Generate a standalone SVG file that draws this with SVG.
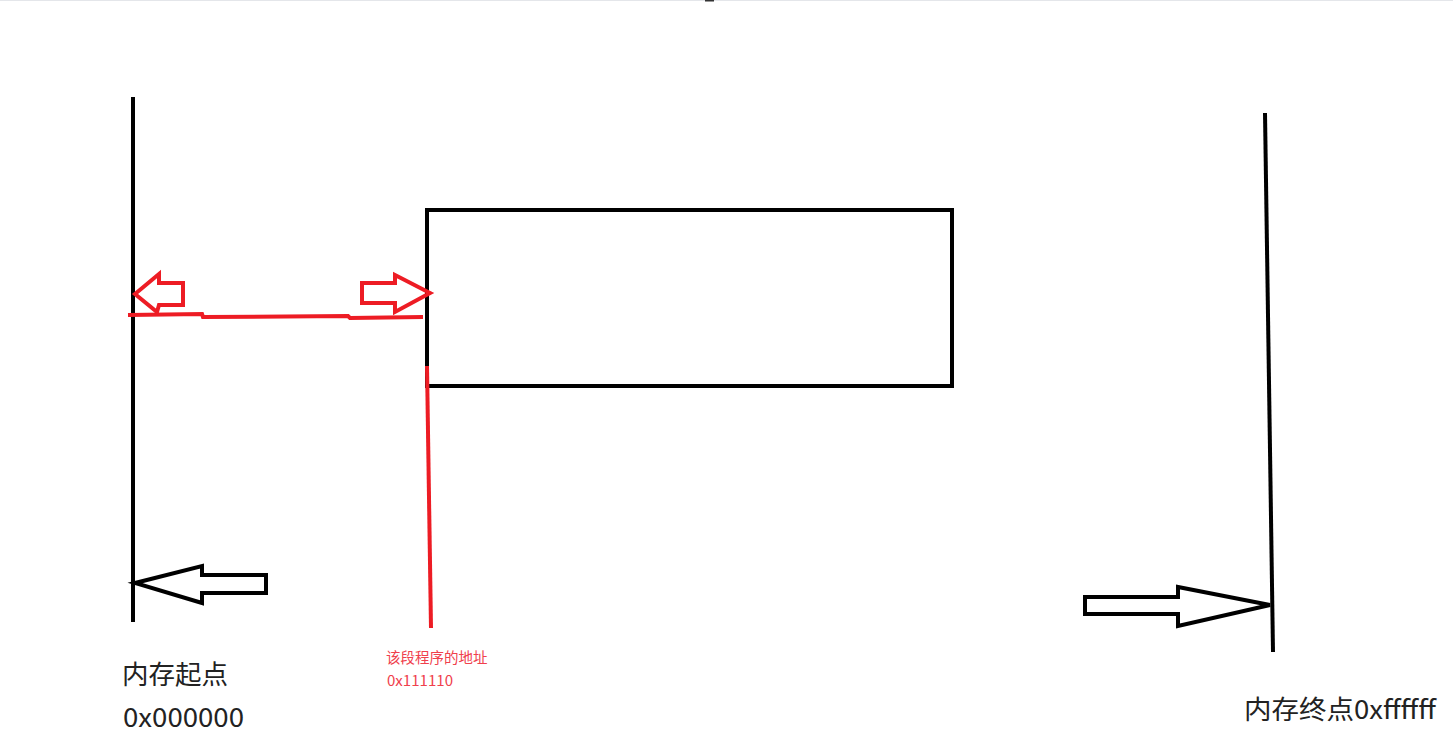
<svg xmlns="http://www.w3.org/2000/svg" width="1453" height="755" viewBox="0 0 1453 755">
<style>
.blk{fill:none;stroke:#000;stroke-width:4;stroke-linejoin:miter}
.red{fill:none;stroke:#ED1C24;stroke-width:4}
.lbl{font-family:"Noto Sans CJK SC","Noto Sans",sans-serif;fill:#222}
.rlbl{font-family:"Noto Sans CJK SC","Noto Sans",sans-serif;fill:#F0404C;font-size:14.5px}
</style>
<rect width="1453" height="755" fill="#fff"/>
<line x1="0" y1="0.5" x2="1453" y2="0.5" stroke="#e4e6ea" stroke-width="1"/>
<rect x="705" y="0" width="9" height="1.5" fill="#333"/>
<g id="memory-start-line"><line class="blk" x1="133" y1="97" x2="133" y2="622"/></g>
<g id="memory-end-line"><line class="blk" x1="1265" y1="113" x2="1273" y2="652"/></g>
<g id="program-block"><rect class="blk" x="427" y="210" width="525" height="176"/></g>
<g id="connectors">
<polyline class="red" points="128,315 202,314 203,317 348,316 350,318 423,317"/>
<line class="red" x1="427" y1="366" x2="431" y2="628"/>
<polygon class="red" points="135,294 159,274 159,283 183,283 183,305 159,305 157,312"/>
<polygon class="red" points="430,293 395,275 395,283 362,283 362,303 395,303 395,312"/>
<polygon class="blk" points="135,583 202,566 202,575 266,575 266,593 202,593 202,603"/>
<polygon class="blk" points="1270,605 1178,587 1178,597 1085,597 1085,614 1178,614 1178,626"/>
</g>
<g id="label-start">
<text class="lbl" x="122" y="684" font-size="26.5">内存起点</text>
<text class="lbl" x="123" y="727" font-size="26" textLength="121" lengthAdjust="spacingAndGlyphs">0x000000</text>
</g>
<g id="label-program">
<text class="rlbl" x="386" y="663">该段程序的地址</text>
<text class="rlbl" x="387" y="686" textLength="66" lengthAdjust="spacingAndGlyphs">0x111110</text>
</g>
<g id="label-end">
<text class="lbl" x="1244" y="719" font-size="26" textLength="192" lengthAdjust="spacingAndGlyphs">内存终点0xffffff</text>
</g>
</svg>
